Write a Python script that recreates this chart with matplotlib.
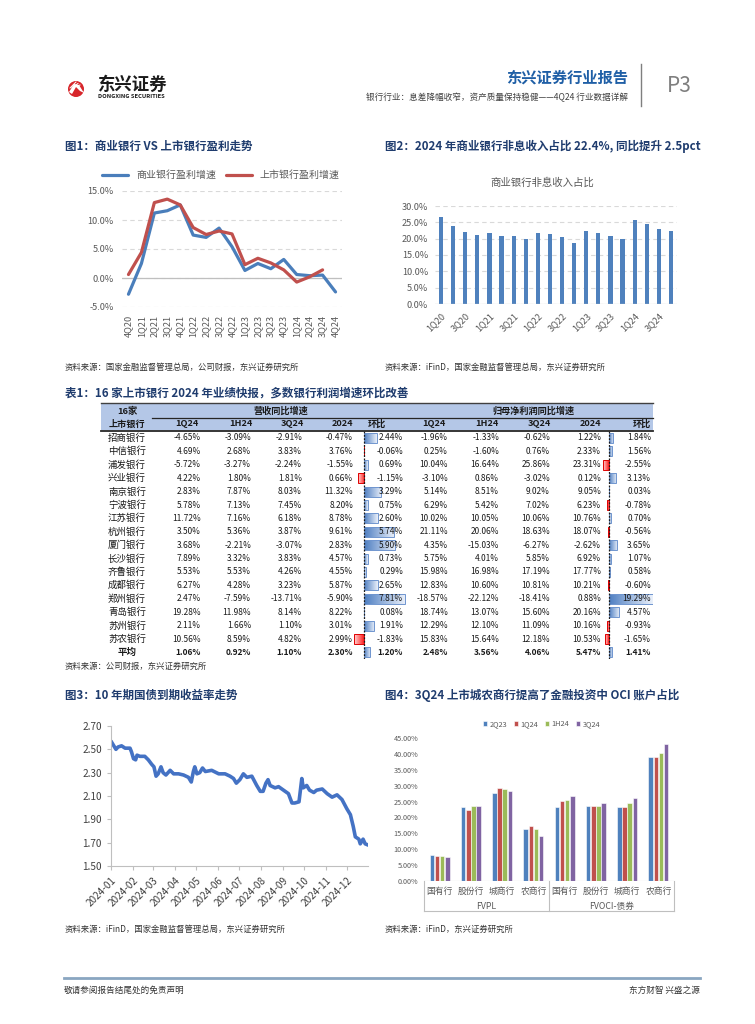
import matplotlib
matplotlib.use('Agg')
import matplotlib.pyplot as plt
import numpy as np
import pandas as pd
from matplotlib.patches import Rectangle, Circle, Polygon
from matplotlib.colors import LinearSegmentedColormap
import matplotlib.dates as mdates
from matplotlib.ticker import FuncFormatter

plt.rcParams['font.family'] = ['Noto Sans CJK SC', 'DejaVu Sans']
plt.rcParams['axes.unicode_minus'] = False

# ---------------- data ----------------
quarters1 = ['4Q20', '1Q21', '2Q21', '3Q21', '4Q21', '1Q22', '2Q22', '3Q22', '4Q22',
             '1Q23', '2Q23', '3Q23', '4Q23', '1Q24', '2Q24', '3Q24', '4Q24']
commercial_growth = [-2.8, 2.5, 11.2, 11.6, 12.6, 7.4, 7.0, 8.6, 5.4, 1.3, 2.5, 1.6, 3.2, 0.6, 0.4, 0.5, -2.4]
listed_growth = [0.6, 4.4, 13.0, 13.6, 12.6, 8.7, 7.5, 8.1, 7.6, 2.3, 3.4, 2.6, 1.4, -0.7, 0.2, 1.4]

quarters2 = ['1Q20', '2Q20', '3Q20', '4Q20', '1Q21', '2Q21', '3Q21', '4Q21', '1Q22', '2Q22',
             '3Q22', '4Q22', '1Q23', '2Q23', '3Q23', '4Q23', '1Q24', '2Q24', '3Q24', '4Q24']
nonint_share = [26.5, 23.8, 22.0, 21.1, 21.6, 20.8, 20.7, 20.0, 21.8, 21.3,
                20.5, 18.8, 22.4, 21.8, 20.7, 20.0, 25.7, 24.4, 22.9, 22.4]

banks = ['招商银行', '中信银行', '浦发银行', '兴业银行', '南京银行', '宁波银行', '江苏银行', '杭州银行',
         '厦门银行', '长沙银行', '齐鲁银行', '成都银行', '郑州银行', '青岛银行', '苏州银行', '苏农银行', '平均']
rev_1q24 = [-4.65, 4.69, -5.72, 4.22, 2.83, 5.78, 11.72, 3.50, 3.68, 7.89, 5.53, 6.27, 2.47, 19.28, 2.11, 10.56, 1.06]
rev_1h24 = [-3.09, 2.68, -3.27, 1.80, 7.87, 7.13, 7.16, 5.36, -2.21, 3.32, 5.53, 4.28, -7.59, 11.98, 1.66, 8.59, 0.92]
rev_3q24 = [-2.91, 3.83, -2.24, 1.81, 8.03, 7.45, 6.18, 3.87, -3.07, 3.83, 4.26, 3.23, -13.71, 8.14, 1.10, 4.82, 1.10]
rev_2024 = [-0.47, 3.76, -1.55, 0.66, 11.32, 8.20, 8.78, 9.61, 2.83, 4.57, 4.55, 5.87, -5.90, 8.22, 3.01, 2.99, 2.30]
rev_qoq = [2.44, -0.06, 0.69, -1.15, 3.29, 0.75, 2.60, 5.74, 5.90, 0.73, 0.29, 2.65, 7.81, 0.08, 1.91, -1.83, 1.20]
np_1q24 = [-1.96, 0.25, 10.04, -3.10, 5.14, 6.29, 10.02, 21.11, 4.35, 5.75, 15.98, 12.83, -18.57, 18.74, 12.29, 15.83, 2.48]
np_1h24 = [-1.33, -1.60, 16.64, 0.86, 8.51, 5.42, 10.05, 20.06, -15.03, 4.01, 16.98, 10.60, -22.12, 13.07, 12.10, 15.64, 3.56]
np_3q24 = [-0.62, 0.76, 25.86, -3.02, 9.02, 7.02, 10.06, 18.63, -6.27, 5.85, 17.19, 10.81, -18.41, 15.60, 11.09, 12.18, 4.06]
np_2024 = [1.22, 2.33, 23.31, 0.12, 9.05, 6.23, 10.76, 18.07, -2.62, 6.92, 17.77, 10.21, 0.88, 20.16, 10.16, 10.53, 5.47]
np_qoq = [1.84, 1.56, -2.55, 3.13, 0.03, -0.78, 0.70, -0.56, 3.65, 1.07, 0.58, -0.60, 19.29, 4.57, -0.93, -1.65, 1.41]
col_headers = ['1Q24', '1H24', '3Q24', '2024', '环比']

bond_dates = ['2024-01-02', '2024-01-04', '2024-01-08', '2024-01-11', '2024-01-16', '2024-01-21',
              '2024-01-28', '2024-01-30', '2024-02-02', '2024-02-05', '2024-02-07', '2024-02-11',
              '2024-02-18', '2024-02-23', '2024-02-28', '2024-03-02', '2024-03-05', '2024-03-08',
              '2024-03-12', '2024-03-15', '2024-03-19', '2024-03-25', '2024-03-30', '2024-04-06',
              '2024-04-13', '2024-04-20', '2024-04-24', '2024-04-27', '2024-04-29', '2024-05-02',
              '2024-05-06', '2024-05-10', '2024-05-14', '2024-05-23', '2024-06-02', '2024-06-11',
              '2024-06-18', '2024-06-23', '2024-06-27', '2024-07-02', '2024-07-07', '2024-07-12',
              '2024-07-19', '2024-07-26', '2024-07-31', '2024-08-04', '2024-08-08', '2024-08-11',
              '2024-08-14', '2024-08-21', '2024-08-26', '2024-09-02', '2024-09-09', '2024-09-14',
              '2024-09-18', '2024-09-24', '2024-09-28', '2024-09-30', '2024-10-05', '2024-10-09',
              '2024-10-15', '2024-10-19', '2024-10-27', '2024-11-03', '2024-11-10', '2024-11-17',
              '2024-11-24', '2024-12-01', '2024-12-06', '2024-12-10', '2024-12-13', '2024-12-18',
              '2024-12-20', '2024-12-24', '2024-12-27', '2024-12-31']
bond_yield = [2.56, 2.54, 2.50, 2.52, 2.53, 2.51, 2.51, 2.48, 2.42, 2.41, 2.45, 2.44,
              2.44, 2.41, 2.37, 2.35, 2.27, 2.29, 2.35, 2.30, 2.28, 2.32, 2.29, 2.29,
              2.28, 2.26, 2.22, 2.31, 2.35, 2.29, 2.30, 2.34, 2.31, 2.32, 2.29, 2.29,
              2.27, 2.25, 2.21, 2.24, 2.29, 2.26, 2.27, 2.19, 2.14, 2.14, 2.21, 2.24,
              2.19, 2.17, 2.18, 2.15, 2.12, 2.04, 2.04, 2.05, 2.25, 2.17, 2.19, 2.15,
              2.13, 2.15, 2.16, 2.12, 2.09, 2.11, 2.07, 1.99, 1.94, 1.84, 1.75, 1.73,
              1.69, 1.73, 1.69, 1.68]

oci_cats = ['国有行', '股份行', '城商行', '农商行', '国有行', '股份行', '城商行', '农商行']
oci_groups = ['FVPL', 'FVOCI-债券']
oci_periods = ['2Q23', '1Q24', '1H24', '3Q24']
oci_2q23 = [8.3, 23.2, 27.8, 16.5, 23.2, 23.6, 23.2, 39.1]
oci_1q24 = [8.0, 22.5, 29.4, 17.2, 25.2, 23.7, 23.3, 39.1]
oci_1h24 = [7.8, 23.6, 29.1, 16.5, 25.4, 23.6, 24.6, 40.3]
oci_3q24 = [7.6, 23.6, 28.4, 14.3, 26.8, 24.6, 26.2, 43.0]

# ---------------- layout helpers ----------------
W, H = 755, 1024
fig = plt.figure(figsize=(W / 100, H / 100), dpi=100)
fig.patch.set_facecolor('white')


def ax_px(l, t, r, b, z=1):
    a = fig.add_axes([l / W, 1 - b / H, (r - l) / W, (b - t) / H], zorder=z)
    a.set_facecolor('none')
    return a


top = ax_px(0, 0, W, H, z=20)
top.set_xlim(0, W)
top.set_ylim(H, 0)
top.axis('off')

TITLE_C = '#1f3c6e'
GRAY = '#595959'

# ---------------- header ----------------
top.add_patch(Circle((76, 89), 8.0, facecolor='#d7262b', edgecolor='none'))
top.add_patch(Polygon([[69, 92], [74, 84], [79, 85], [84, 93], [80, 91], [76, 87], [72, 94]],
                      closed=True, facecolor='white', edgecolor='none'))
for k in range(3):
    top.plot([70 + k * 2, 76 + k * 2], [88 - k * 0.5, 82 + k * 1.5], color='white', lw=0.7)
top.text(98, 85, '东兴证券', fontsize=12.5, weight='bold', color='#1a1a1a', va='center', ha='left')
top.text(98, 96.5, 'DONGXING SECURITIES', fontsize=4.2, weight='bold', color='#1a1a1a', va='center', ha='left')
top.text(628, 78, '东兴证券行业报告', fontsize=11, weight='bold', color='#1f5fa6', va='center', ha='right')
top.text(628, 97, '银行行业：息差降幅收窄，资产质量保持稳健——4Q24 行业数据详解', fontsize=6.2,
         color='#404040', va='center', ha='right')
top.plot([641, 641], [64, 106], color='#7f7f7f', lw=1.0)
top.text(667, 86, 'P3', fontsize=15, color='#7f7f7f', va='center', ha='left')

# ---------------- titles & sources ----------------
tfs = 8.3
top.text(65, 146, '图1：商业银行 VS 上市银行盈利走势', fontsize=tfs, weight='bold', color=TITLE_C, va='center')
top.text(385, 146, '图2：2024 年商业银行非息收入占比 22.4%, 同比提升 2.5pct', fontsize=tfs, weight='bold',
         color=TITLE_C, va='center')
top.text(65, 393, '表1：16 家上市银行 2024 年业绩快报，多数银行利润增速环比改善', fontsize=tfs, weight='bold',
         color=TITLE_C, va='center')
top.text(65, 695, '图3：10 年期国债到期收益率走势', fontsize=tfs, weight='bold', color=TITLE_C, va='center')
top.text(385, 695, '图4：3Q24 上市城农商行提高了金融投资中 OCI 账户占比', fontsize=tfs, weight='bold',
         color=TITLE_C, va='center')
sfs = 6.0
top.text(65, 367, '资料来源：国家金融监督管理总局，公司财报，东兴证券研究所', fontsize=sfs, color='#333333', va='center')
top.text(385, 367, '资料来源：iFinD，国家金融监督管理总局，东兴证券研究所', fontsize=sfs, color='#333333', va='center')
top.text(65, 666, '资料来源：公司财报，东兴证券研究所', fontsize=sfs, color='#333333', va='center')
top.text(65, 929, '资料来源：iFinD，国家金融监督管理总局，东兴证券研究所', fontsize=sfs, color='#333333', va='center')
top.text(385, 929, '资料来源：iFinD，东兴证券研究所', fontsize=sfs, color='#333333', va='center')

# ---------------- footer ----------------
top.plot([64, 700], [978, 978], color='#8aa6c1', lw=2.0)
top.text(64, 990, '敬请参阅报告结尾处的免责声明', fontsize=6.2, color='#333333', va='center', ha='left')
top.text(700, 990, '东方财智 兴盛之源', fontsize=6.2, color='#333333', va='center', ha='right')

# ---------------- chart 1 ----------------
ax1 = ax_px(122, 191, 342, 307)
x1 = np.arange(len(quarters1))
ax1.grid(axis='y', ls=(0, (4, 3)), color='#d9d9d9', lw=0.8)
ax1.axhline(0, color='#bfbfbf', lw=0.9)
ax1.plot(x1, commercial_growth, color='#4a7ebb', lw=2.3, label='商业银行盈利增速', solid_capstyle='round')
ax1.plot(x1[:len(listed_growth)], listed_growth, color='#c0504d', lw=2.3, label='上市银行盈利增速',
         solid_capstyle='round')
ax1.set_ylim(-5, 15)
ax1.set_xlim(-0.5, len(quarters1) - 0.5)
ax1.set_yticks([-5, 0, 5, 10, 15])
ax1.yaxis.set_major_formatter(FuncFormatter(lambda v, p: f'{v:.1f}%'))
ax1.set_xticks(x1)
ax1.set_xticklabels(quarters1, rotation=90)
ax1.tick_params(axis='both', length=0, labelsize=6.6, labelcolor=GRAY, pad=6)
for s in ax1.spines.values():
    s.set_visible(False)
ax1.set_axisbelow(True)
ax1.legend(loc='lower center', bbox_to_anchor=(0.45, 1.06), ncol=2, frameon=False, fontsize=7.2,
           handlelength=2.6, columnspacing=1.0, labelcolor=GRAY, borderaxespad=0)

# ---------------- chart 2 ----------------
top.text(542, 183, '商业银行非息收入占比', fontsize=7.5, color=GRAY, va='center', ha='center')
ax2 = ax_px(435, 206, 677, 304)
x2 = np.arange(len(quarters2))
ax2.grid(axis='y', ls=(0, (4, 3)), color='#d9d9d9', lw=0.8)
ax2.bar(x2, nonint_share, width=0.35, color='#4f81bd')
ax2.axhline(0, color='#d9d9d9', lw=0.9)
ax2.set_ylim(0, 30)
ax2.set_xlim(-0.5, len(quarters2) - 0.5)
ax2.set_yticks(np.arange(0, 31, 5))
ax2.yaxis.set_major_formatter(FuncFormatter(lambda v, p: f'{v:.1f}%'))
ax2.set_xticks(x2[::2])
ax2.set_xticklabels(quarters2[::2], rotation=45, ha='right', rotation_mode='anchor')
ax2.tick_params(axis='both', length=0, labelsize=6.6, labelcolor=GRAY, pad=5)
for s in ax2.spines.values():
    s.set_visible(False)
ax2.set_axisbelow(True)

# ---------------- table ----------------
t_left, t_right = 101, 653
row_y0, row_h = 438.0, 13.4
top.add_patch(Rectangle((t_left, 403), t_right - t_left, 27, facecolor='#b4c7e7', edgecolor='none', zorder=0))
top.plot([t_left, t_right], [403, 403], color='#404040', lw=1.0)
top.plot([152, t_right], [417.5, 417.5], color='#262626', lw=0.9)
top.plot([t_left, t_right], [430.5, 430.5], color='#262626', lw=1.3)
hfs = 6.6
top.text(127, 411, '16家', fontsize=hfs, weight='bold', ha='center', va='center', color='#1a1a1a')
top.text(127, 424, '上市银行', fontsize=hfs, weight='bold', ha='center', va='center', color='#1a1a1a')
top.text(281, 411, '营收同比增速', fontsize=hfs, weight='bold', ha='center', va='center', color='#1a1a1a')
top.text(533, 411, '归母净利润同比增速', fontsize=hfs, weight='bold', ha='center', va='center', color='#1a1a1a')
rev_hx = [187, 241, 292, 343, 377]
np_hx = [434, 487, 539, 591, 642]
for h, xa, xb in zip(col_headers, rev_hx, np_hx):
    top.text(xa, 424, h, fontsize=hfs, weight='bold', ha='center', va='center', color='#1a1a1a')
    top.text(xb, 424, h, fontsize=hfs, weight='bold', ha='center', va='center', color='#1a1a1a')

rev_cols = [rev_1q24, rev_1h24, rev_3q24, rev_2024, rev_qoq]
np_cols = [np_1q24, np_1h24, np_3q24, np_2024, np_qoq]
rev_right = [201, 251, 302, 353, 403]
np_right = [448, 499, 550, 601, 651]
for i, b in enumerate(banks):
    y = row_y0 + i * row_h
    bold = (b == '平均')
    wt = 'bold' if bold else 'normal'
    top.text(127, y, b, fontsize=6.8, weight=wt, ha='center', va='center', color='#1a1a1a')
    for vals, xr in zip(rev_cols + np_cols, rev_right + np_right):
        top.text(xr, y, f'{vals[i]:.2f}%', fontsize=6.0, weight=wt, ha='right', va='center', color='#1a1a1a')

blue_cmap = LinearSegmentedColormap.from_list('bl', ['#4f7fc2', '#eaf0fa'])
red_cmap = LinearSegmentedColormap.from_list('rd', ['#ff2020', '#ffd6d6'])


def databar(l, r, lo, hi, vals):
    n = len(vals)
    ax = ax_px(l, row_y0 - row_h / 2, r, row_y0 + (n - 0.5) * row_h, z=5)
    ys = np.arange(n)
    hb = 0.74
    bars = ax.barh(ys, vals, height=hb, color='none', lw=0.7)
    grad = np.linspace(0, 1, 64).reshape(1, -1)
    for bar, v, yy in zip(bars, vals, ys):
        if v >= 0:
            bar.set_edgecolor('#6f95cf')
            im = ax.imshow(grad, extent=[0, v, yy + hb / 2, yy - hb / 2], cmap=blue_cmap,
                           aspect='auto', interpolation='bilinear', zorder=1)
        else:
            bar.set_edgecolor('#e00000')
            im = ax.imshow(grad[:, ::-1], extent=[v, 0, yy + hb / 2, yy - hb / 2], cmap=red_cmap,
                           aspect='auto', interpolation='bilinear', zorder=1)
        im.set_clip_path(bar)
        bar.set_zorder(2)
    ax.axvline(0, color='#1a1a1a', ls=(0, (1.5, 1.2)), lw=0.9, zorder=3)
    ax.set_xlim(lo, hi)
    ax.set_ylim(n - 0.5, -0.5)
    ax.axis('off')
    return ax


databar(354, 405.5, -1.9, 7.9, rev_qoq)
databar(603, 653, -2.6, 19.4, np_qoq)

# ---------------- chart 3 ----------------
ax3 = ax_px(111, 726, 368, 866)
d3 = pd.to_datetime(bond_dates)
ax3.plot(d3, bond_yield, color='#4472c4', lw=2.6, solid_joinstyle='round')
ax3.set_ylim(1.5, 2.7)
ax3.set_yticks(np.arange(1.5, 2.71, 0.2))
ax3.yaxis.set_major_formatter(FuncFormatter(lambda v, p: f'{v:.2f}'))
ax3.set_xlim(pd.Timestamp('2024-01-01'), pd.Timestamp('2024-12-31'))
ax3.xaxis.set_major_locator(mdates.MonthLocator())
ax3.xaxis.set_major_formatter(mdates.DateFormatter('%Y-%m'))
for lab in ax3.get_xticklabels():
    lab.set_rotation(45)
    lab.set_ha('right')
    lab.set_rotation_mode('anchor')
ax3.tick_params(axis='both', labelsize=7.2, labelcolor='#404040', color='#bfbfbf', length=3, width=0.8)
ax3.spines['top'].set_visible(False)
ax3.spines['right'].set_visible(False)
ax3.spines['left'].set_color('#bfbfbf')
ax3.spines['bottom'].set_color('#bfbfbf')

# ---------------- chart 4 ----------------
ax4 = ax_px(424, 738, 674, 881)
x4 = np.arange(len(oci_cats))
bw = 0.145
series4 = [oci_2q23, oci_1q24, oci_1h24, oci_3q24]
colors4 = ['#4f81bd', '#c0504d', '#9bbb59', '#8064a2']
for k, (vals, c, lab) in enumerate(zip(series4, colors4, oci_periods)):
    ax4.bar(x4 + (k - 1.5) * 0.165, vals, width=bw, color=c, edgecolor='white', lw=0.4, label=lab)
ax4.set_ylim(0, 45)
ax4.set_xlim(-0.5, len(oci_cats) - 0.5)
ax4.set_yticks(np.arange(0, 46, 5))
ax4.yaxis.set_major_formatter(FuncFormatter(lambda v, p: f'{v:.2f}%'))
ax4.set_xticks(x4)
ax4.set_xticklabels(oci_cats)
ax4.tick_params(axis='y', length=0, labelsize=5.2, labelcolor=GRAY, pad=4)
ax4.tick_params(axis='x', length=0, labelsize=6.3, labelcolor=GRAY, pad=4)
for s in ax4.spines.values():
    s.set_visible(False)
ax4.axhline(0, color='#bfbfbf', lw=0.8)
for g, name in enumerate(oci_groups):
    ax4.text(g * 4 + 1.5, -0.175, name, transform=ax4.get_xaxis_transform(), ha='center', va='center',
             fontsize=6.3, color=GRAY)
for xx in [424, 549, 674]:
    top.plot([xx, xx], [881, 911], color='#bfbfbf', lw=0.8)
top.plot([424, 674], [911, 911], color='#bfbfbf', lw=0.8)
ax4.legend(loc='lower center', bbox_to_anchor=(0.47, 1.05), ncol=4, frameon=False, fontsize=5.3,
           handlelength=0.6, handleheight=0.6, columnspacing=0.9, handletextpad=0.3, labelcolor=GRAY,
           borderaxespad=0)

fig.savefig('out.png', dpi=100, facecolor='white')
